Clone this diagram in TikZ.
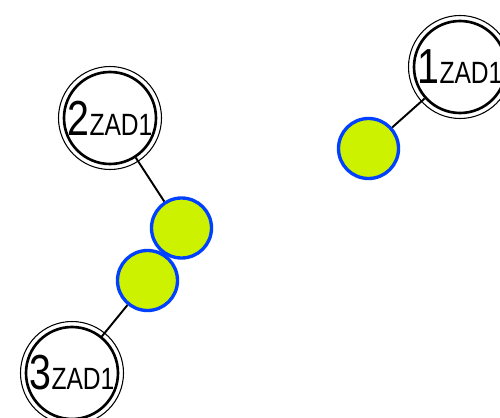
\documentclass[tikz,border=0pt]{standalone}
\usepackage{fontspec}
\setmainfont{Liberation Sans}
\usepackage{xcolor}
\usepackage{tikz}
\usetikzlibrary{positioning, shapes}

\definecolor{ballgreen}{RGB}{204,242,0}
\definecolor{ballblue}{RGB}{0,64,255}
\newcommand{\zadname}[1]{\scalebox{0.8}[1]{{\fontsize{28}{28}\selectfont #1}{\fontsize{17.5}{17.5}\selectfont ZAD1}}}

\begin{document}
\begin{tikzpicture}[
  zad/.style={circle, draw, line width=1.5pt, minimum size=1.84cm, inner sep=0pt},
  ball/.style={circle, draw=ballblue, fill=ballgreen, line width=1.9pt, minimum size=1.2cm, inner sep=0pt},
  link/.style={line width=1.1pt}]
\useasboundingbox (0,0) rectangle (10,8.34);
\node[zad](z1) at (9.20,7.00){\zadname{1}};
\node[zad](z2) at (2.20,5.98){\zadname{2}};
\node[zad](z3) at (1.44,0.88){\zadname{3}};
\foreach \n in {z1,z2,z3}
  \draw[line width=0.6pt] (\n) circle[radius=1.03cm];
\node[ball](g1) at (7.37,5.37){};
\node[ball](g2) at (3.63,3.78){};
\node[ball](g3) at (2.95,2.73){};
\draw[link] (z1) -- (g1);
\draw[link] (z2) -- (g2);
\draw[link] (g3) -- (z3);
\end{tikzpicture}
\end{document}
